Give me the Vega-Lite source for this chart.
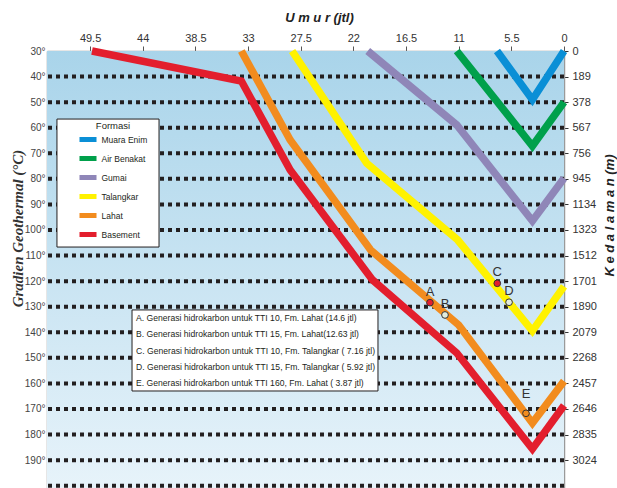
{
  "$schema": "https://vega.github.io/schema/vega-lite/v6.json",
  "width": 517,
  "height": 437,
  "autosize": {"type": "none"},
  "padding": {"left": 47, "top": 51, "right": 53, "bottom": 0},
  "background": "white",
  "config": {"view": {"stroke": null}, "font": "Liberation Sans"},
  "datasets": {
    "grid": [
      {"depth": 189}, {"depth": 378}, {"depth": 567}, {"depth": 756}, {"depth": 945}, {"depth": 1134},
      {"depth": 1323}, {"depth": 1512}, {"depth": 1701}, {"depth": 1890}, {"depth": 2079}, {"depth": 2268},
      {"depth": 2457}, {"depth": 2646}, {"depth": 2835}, {"depth": 3024}, {"depth": 3213}
    ],
    "burial": [
      {"formasi": "Muara Enim", "age": 7.0, "depth": 0},
      {"formasi": "Muara Enim", "age": 3.3, "depth": 360},
      {"formasi": "Muara Enim", "age": 0, "depth": 0},
      {"formasi": "Air Benakat", "age": 11.2, "depth": 0},
      {"formasi": "Air Benakat", "age": 3.3, "depth": 702},
      {"formasi": "Air Benakat", "age": 0, "depth": 378},
      {"formasi": "Gumai", "age": 20.5, "depth": 0},
      {"formasi": "Gumai", "age": 11.2, "depth": 547},
      {"formasi": "Gumai", "age": 3.3, "depth": 1256},
      {"formasi": "Gumai", "age": 0, "depth": 940},
      {"formasi": "Talangkar", "age": 28.4, "depth": 0},
      {"formasi": "Talangkar", "age": 20.6, "depth": 830},
      {"formasi": "Talangkar", "age": 11.1, "depth": 1397},
      {"formasi": "Talangkar", "age": 3.3, "depth": 2069},
      {"formasi": "Talangkar", "age": 0, "depth": 1740},
      {"formasi": "Lahat", "age": 33.7, "depth": 0},
      {"formasi": "Lahat", "age": 28.6, "depth": 658},
      {"formasi": "Lahat", "age": 20.2, "depth": 1471},
      {"formasi": "Lahat", "age": 11.0, "depth": 2025},
      {"formasi": "Lahat", "age": 3.3, "depth": 2749},
      {"formasi": "Lahat", "age": 0, "depth": 2440},
      {"formasi": "Basement", "age": 49.3, "depth": 0},
      {"formasi": "Basement", "age": 33.7, "depth": 222},
      {"formasi": "Basement", "age": 28.6, "depth": 880},
      {"formasi": "Basement", "age": 20.0, "depth": 1692},
      {"formasi": "Basement", "age": 11.2, "depth": 2232},
      {"formasi": "Basement", "age": 3.3, "depth": 2941},
      {"formasi": "Basement", "age": 0, "depth": 2620}
    ],
    "tti": [
      {"label": "A", "kind": "TTI 10", "age": 14.0, "depth": 1860},
      {"label": "B", "kind": "TTI 15", "age": 12.43, "depth": 1951},
      {"label": "C", "kind": "TTI 10", "age": 6.97, "depth": 1717},
      {"label": "D", "kind": "TTI 15", "age": 5.74, "depth": 1857},
      {"label": "E", "kind": "TTI 160", "age": 3.97, "depth": 2678}
    ],
    "notes": [
      {"note": "A. Generasi hidrokarbon untuk TTI 10, Fm. Lahat (14.6 jtl)", "age": 44.7, "depth": 1973},
      {"note": "B. Generasi hidrokarbon untuk TTI 15, Fm. Lahat(12.63 jtl)", "age": 44.7, "depth": 2095},
      {"note": "C. Generasi hidrokarbon untuk TTI 10, Fm. Talangkar ( 7.16 jtl)", "age": 44.7, "depth": 2217},
      {"note": "D. Generasi hidrokarbon untuk  TTI 15, Fm. Talangkar ( 5.92 jtl)", "age": 44.7, "depth": 2336},
      {"note": "E. Generasi hidrokarbon untuk TTI 160, Fm. Lahat ( 3.87 jtl)", "age": 44.7, "depth": 2454}
    ]
  },
  "layer": [
    {
      "data": {"values": [{}]},
      "mark": {"type": "rect", "fill": {"gradient": "linear", "x1": 0, "y1": 0, "x2": 0, "y2": 1, "stops": [{"offset": 0, "color": "#a9d4ea"}, {"offset": 1, "color": "#e7f3fa"}]}},
      "encoding": {
        "x": {"datum": 54, "type": "quantitative", "scale": {"domain": [0, 54], "reverse": true, "nice": false, "zero": false}, "axis": null},
        "x2": {"datum": 0},
        "y": {"datum": 0, "type": "quantitative", "scale": {"domain": [0, 3230], "reverse": true, "nice": false, "zero": false}, "axis": null},
        "y2": {"datum": 3230}
      }
    },
    {
      "data": {"name": "grid"},
      "mark": {"type": "rule", "stroke": "#231f20", "strokeWidth": 4, "strokeDash": [4, 4]},
      "encoding": {
        "y": {
          "field": "depth", "type": "quantitative",
          "scale": {"domain": [0, 3230], "reverse": true, "nice": false, "zero": false},
          "axis": {
            "orient": "left",
            "values": [0, 189, 378, 567, 756, 945, 1134, 1323, 1512, 1701, 1890, 2079, 2268, 2457, 2646, 2835, 3024],
            "labelExpr": "format(datum.value/18.9+30,'d')+'°'",
            "labelOverlap": false,
            "title": "Gradien  Geothermal (°C)",
            "titleFont": "Liberation Serif", "titleFontStyle": "italic", "titleFontWeight": "bold", "titleFontSize": 15, "titleColor": "#333333",
            "titleAngle": 270, "titleX": -30, "titleY": 177, "titleBaseline": "middle", "titleAlign": "center",
            "ticks": false, "labelPadding": 2, "labelFontSize": 10, "labelColor": "#444444",
            "domainColor": "#9a9a9a", "domainWidth": 1.5, "grid": false
          }
        }
      }
    },
    {
      "data": {"values": [{}]},
      "mark": {"type": "rect", "fill": "white", "stroke": "#231f20", "strokeWidth": 1},
      "encoding": {
        "x": {"datum": 52.96, "type": "quantitative", "scale": {"domain": [0, 54], "reverse": true, "nice": false, "zero": false}, "axis": null},
        "x2": {"datum": 42.3},
        "y": {"datum": 503, "type": "quantitative", "scale": {"domain": [0, 3230], "reverse": true, "nice": false, "zero": false}, "axis": null},
        "y2": {"datum": 1449}
      }
    },
    {
      "data": {"values": [{}]},
      "mark": {"type": "rect", "fill": "white", "stroke": "#231f20", "strokeWidth": 1},
      "encoding": {
        "x": {"datum": 45.12, "type": "quantitative", "scale": {"domain": [0, 54], "reverse": true, "nice": false, "zero": false}, "axis": null},
        "x2": {"datum": 19.43},
        "y": {"datum": 1914, "type": "quantitative", "scale": {"domain": [0, 3230], "reverse": true, "nice": false, "zero": false}, "axis": null},
        "y2": {"datum": 2513}
      }
    },
    {
      "data": {"name": "notes"},
      "mark": {"type": "text", "align": "left", "baseline": "middle", "fontSize": 8.6, "color": "#231f20"},
      "encoding": {
        "x": {"field": "age", "type": "quantitative", "scale": {"domain": [0, 54], "reverse": true, "nice": false, "zero": false}, "axis": null},
        "y": {"field": "depth", "type": "quantitative", "scale": {"domain": [0, 3230], "reverse": true, "nice": false, "zero": false}, "axis": null},
        "text": {"field": "note"}
      }
    },
    {
      "data": {"name": "burial"},
      "mark": {"type": "line", "strokeWidth": 7.5, "strokeCap": "butt", "strokeJoin": "miter"},
      "encoding": {
        "x": {
          "field": "age", "type": "quantitative",
          "scale": {"domain": [0, 54], "reverse": true, "nice": false, "zero": false},
          "axis": {
            "orient": "top",
            "values": [49.5, 44, 38.5, 33, 27.5, 22, 16.5, 11, 5.5, 0],
            "labelExpr": "'' + datum.value", "labelFlush": false, "labelOverlap": false,
            "title": "U m u r  (jtl)",
            "titleFontStyle": "italic", "titleFontWeight": "bold", "titleFontSize": 13, "titleColor": "#222222",
            "titleX": 272, "titleY": -34, "titleBaseline": "middle", "titleAlign": "center",
            "tickSize": 5, "tickColor": "#555555", "labelFontSize": 11, "labelColor": "#333333", "labelPadding": 3,
            "domainColor": "#9a9a9a", "domainWidth": 1.5, "grid": false
          }
        },
        "y": {
          "field": "depth", "type": "quantitative",
          "scale": {"domain": [0, 3230], "reverse": true, "nice": false, "zero": false},
          "axis": {
            "orient": "right",
            "values": [0, 189, 378, 567, 756, 945, 1134, 1323, 1512, 1701, 1890, 2079, 2268, 2457, 2646, 2835, 3024],
            "format": "d", "labelOverlap": false,
            "title": "K e d a l a m a n (m)",
            "titleFontStyle": "italic", "titleFontWeight": "bold", "titleFontSize": 13, "titleColor": "#222222",
            "titleAngle": 270, "titleX": 45, "titleY": 164, "titleBaseline": "middle", "titleAlign": "center",
            "tickSize": 4, "tickColor": "#333333", "labelPadding": 4, "labelFontSize": 11, "labelColor": "#333333",
            "domainColor": "#9a9a9a", "domainWidth": 1.5, "grid": false
          }
        },
        "stroke": {
          "field": "formasi", "type": "nominal",
          "scale": {
            "domain": ["Muara Enim", "Air Benakat", "Gumai", "Talangkar", "Lahat", "Basement"],
            "range": ["#0a8fd6", "#00a04b", "#8f86b8", "#fff200", "#f28c1e", "#e31e2d"]
          },
          "legend": {
            "orient": "none", "legendX": 32, "legendY": 70,
            "title": "Formasi", "titleFontSize": 9.5, "titleFontWeight": "normal", "titleColor": "#231f20",
            "titleAnchor": "middle", "titlePadding": 0,
            "labelFontSize": 8.5, "labelColor": "#231f20", "labelOffset": 4.5,
            "symbolType": "M-1.35,0H1.35", "symbolStrokeWidth": 5, "symbolSize": 159,
            "rowPadding": -3.9, "padding": 0, "fillColor": null, "strokeColor": null
          }
        }
      }
    },
    {
      "data": {"name": "tti"},
      "mark": {"type": "circle", "size": 45, "stroke": "#333333", "opacity": 1},
      "encoding": {
        "x": {"field": "age", "type": "quantitative", "scale": {"domain": [0, 54], "reverse": true, "nice": false, "zero": false}, "axis": null},
        "y": {"field": "depth", "type": "quantitative", "scale": {"domain": [0, 3230], "reverse": true, "nice": false, "zero": false}, "axis": null},
        "fill": {"field": "kind", "type": "nominal", "scale": {"domain": ["TTI 10", "TTI 15", "TTI 160"], "range": ["#e31e2d", "#e2ecdc", "#f28c1e"]}, "legend": null},
        "strokeWidth": {"field": "kind", "type": "nominal", "scale": {"domain": ["TTI 10", "TTI 15", "TTI 160"], "range": [1, 1, 3]}, "legend": null}
      }
    },
    {
      "data": {"name": "tti"},
      "transform": [{"filter": "datum.label != 'E'"}],
      "mark": {"type": "text", "fontSize": 13, "color": "#333333", "dy": -11},
      "encoding": {
        "x": {"field": "age", "type": "quantitative", "scale": {"domain": [0, 54], "reverse": true, "nice": false, "zero": false}, "axis": null},
        "y": {"field": "depth", "type": "quantitative", "scale": {"domain": [0, 3230], "reverse": true, "nice": false, "zero": false}, "axis": null},
        "text": {"field": "label"}
      }
    },
    {
      "data": {"name": "tti"},
      "transform": [{"filter": "datum.label == 'E'"}],
      "mark": {"type": "text", "fontSize": 13, "color": "#333333", "dy": -19},
      "encoding": {
        "x": {"field": "age", "type": "quantitative", "scale": {"domain": [0, 54], "reverse": true, "nice": false, "zero": false}, "axis": null},
        "y": {"field": "depth", "type": "quantitative", "scale": {"domain": [0, 3230], "reverse": true, "nice": false, "zero": false}, "axis": null},
        "text": {"field": "label"}
      }
    }
  ],
  "resolve": {"axis": {"x": "independent", "y": "independent"}}
}
